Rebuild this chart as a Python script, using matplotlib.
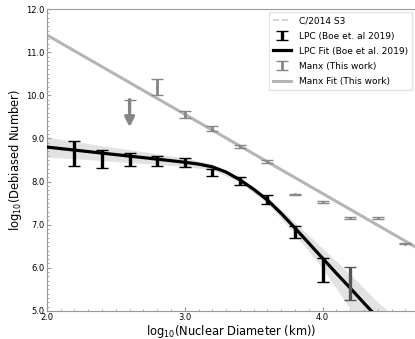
import matplotlib
matplotlib.use("Agg")
import matplotlib.pyplot as plt
from matplotlib.ticker import MultipleLocator, FormatStrFormatter

# LPC points (Boe et al. 2019)
lpc_x = [2.2, 2.4, 2.6, 2.8, 3.0, 3.2, 3.4, 3.6, 3.8, 4.0, 4.2]
lpc_y = [8.64, 8.53, 8.52, 8.47, 8.44, 8.20, 8.02, 7.58, 6.83, 5.95, 5.64]
lpc_err = [0.29, 0.21, 0.15, 0.12, 0.10, 0.08, 0.09, 0.10, 0.13, 0.28, 0.38]
lpc_colors = ["black"] * 10 + ["#555555"]

# LPC fit curve and its confidence band
fit_x = [2.0, 2.1, 2.2, 2.3, 2.4, 2.5, 2.6, 2.7, 2.8, 2.9, 3.0, 3.1, 3.2, 3.3,
         3.4, 3.5, 3.6, 3.7, 3.8, 3.9, 4.0, 4.1, 4.2, 4.3, 4.4, 4.5, 4.6]
fit_y = [8.80, 8.765, 8.73, 8.695, 8.66, 8.625, 8.59, 8.555, 8.52, 8.484, 8.448,
         8.405, 8.34, 8.22, 8.04, 7.82, 7.57, 7.26, 6.92, 6.57, 6.22, 5.87, 5.53,
         5.18, 4.84, 4.49, 4.15]
band_x = [2.0, 2.2, 2.4, 2.6, 2.8, 3.0, 3.2, 3.4, 3.6, 3.8, 4.0, 4.2, 4.4, 4.6]
band_hi = [9.03, 8.93, 8.83, 8.74, 8.64, 8.55, 8.41, 8.10, 7.65, 7.05, 6.45,
           5.85, 5.20, 4.65]
band_lo = [8.57, 8.53, 8.49, 8.44, 8.40, 8.35, 8.27, 7.98, 7.49, 6.78, 5.98,
           5.05, 4.20, 3.40]

# Manx points (this work)
manx_x = [2.8, 3.0, 3.2, 3.4, 3.6, 3.8, 4.0, 4.2, 4.4, 4.6]
manx_y = [10.19, 9.55, 9.23, 8.81, 8.47, 7.70, 7.53, 7.16, 7.16, 6.56]
manx_err = [0.18, 0.08, 0.05, 0.04, 0.03, 0.02, 0.02, 0.02, 0.02, 0.02]

# Manx upper limit (arrow)
limit_x = 2.6
limit_top = 9.90
limit_tip = 9.26

# Manx fit line
manx_fit_x = [2.0, 4.67]
manx_fit_y = [11.40, 6.49]

fig = plt.figure(figsize=(4.15, 3.39), dpi=100)
ax = fig.add_axes([0.113, 0.083, 0.887, 0.890])

ax.fill_between(band_x, band_lo, band_hi, color="#e2e2e2", lw=0, zorder=1)
lpc_fit, = ax.plot(fit_x, fit_y, color="black", lw=2.3, zorder=3,
                   label="LPC Fit (Boe et al. 2019)")
manx_fit, = ax.plot(manx_fit_x, manx_fit_y, color="#b5b5b5", lw=2.2, zorder=2,
                    label="Manx Fit (This work)")
c2014, = ax.plot([], [], ls="--", color="#cccccc", lw=1.2, label="C/2014 S3")

lpc_h = None
for x, y, e, c in zip(lpc_x, lpc_y, lpc_err, lpc_colors):
    h = ax.errorbar(x, y, yerr=e, fmt=".", ms=2, color=c, ecolor=c,
                    elinewidth=2.4, capsize=4, capthick=1, zorder=4)
    if lpc_h is None:
        lpc_h = h

manx_h = ax.errorbar(manx_x, manx_y, yerr=manx_err, fmt=".", ms=2,
                     color="#888888", ecolor="#888888", elinewidth=2,
                     capsize=4, capthick=1, zorder=4)

ax.annotate("", xy=(limit_x, limit_tip), xytext=(limit_x, limit_top),
            arrowprops=dict(arrowstyle="-|>", color="#858585", lw=2.4,
                            mutation_scale=14, shrinkA=0, shrinkB=0))
ax.plot([limit_x], [limit_top], marker="_", ms=8, mew=1, color="#858585")

ax.set_xlim(2.0, 4.67)
ax.set_ylim(5.0, 12.0)
ax.xaxis.set_major_locator(MultipleLocator(1.0))
ax.xaxis.set_minor_locator(MultipleLocator(0.1))
ax.yaxis.set_major_locator(MultipleLocator(1.0))
ax.yaxis.set_minor_locator(MultipleLocator(0.1))
ax.xaxis.set_major_formatter(FormatStrFormatter("%.1f"))
ax.yaxis.set_major_formatter(FormatStrFormatter("%.1f"))
ax.tick_params(which="both", direction="in", color="#999999", labelsize=6,
               pad=1.5)
ax.tick_params(which="major", length=3)
ax.tick_params(which="minor", length=1.5, width=0.6)
for side in ["left", "bottom", "top"]:
    ax.spines[side].set_color("#999999")
ax.spines["right"].set_visible(False)

ax.set_xlabel("log$_{10}$(Nuclear Diameter (km))", fontsize=8.3, labelpad=1)
ax.set_ylabel("log$_{10}$(Debiased Number)", fontsize=8.3, labelpad=2)

ax.legend([c2014, lpc_h, lpc_fit, manx_h, manx_fit],
          ["C/2014 S3", "LPC (Boe et. al 2019)", "LPC Fit (Boe et al. 2019)",
           "Manx (This work)", "Manx Fit (This work)"],
          loc="upper right", fontsize=6.5, frameon=True, fancybox=False,
          edgecolor="#dddddd", borderaxespad=0.3, labelspacing=0.68,
          borderpad=0.5)

fig.savefig("out.png", dpi=100, facecolor="white")
